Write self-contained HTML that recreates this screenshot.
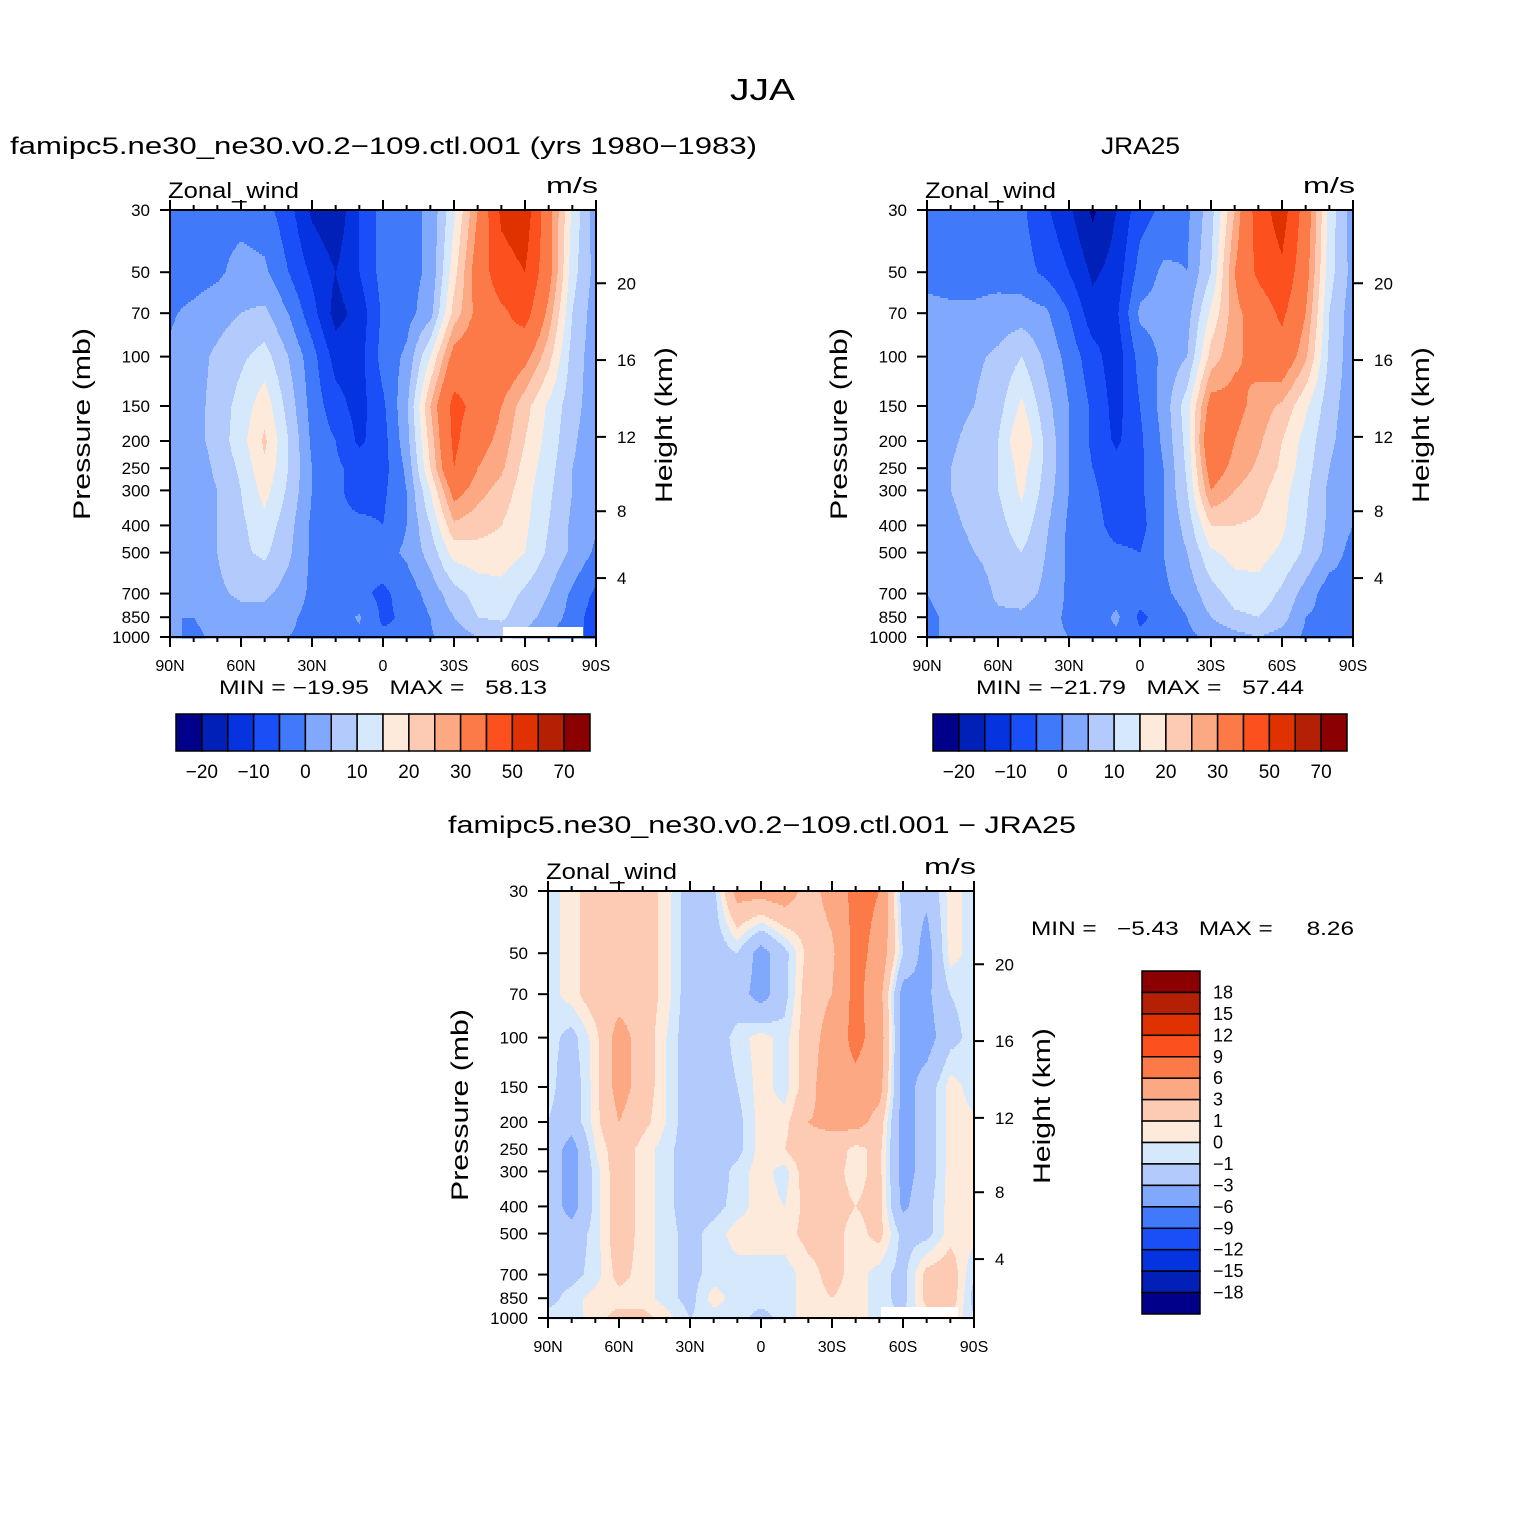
<!DOCTYPE html>
<html><head><meta charset="utf-8"><style>
html,body{margin:0;padding:0;background:#fff}
svg text{font-family:"Liberation Sans",sans-serif;fill:#000}
</style></head><body>
<svg id="fig" width="1524" height="1524" viewBox="0 0 1524 1524" xmlns="http://www.w3.org/2000/svg">
<rect width="1524" height="1524" fill="#fff"/>
<text x="730" y="100" font-size="31" textLength="65" lengthAdjust="spacingAndGlyphs">JJA</text>
<text x="10" y="154" font-size="24" textLength="747" lengthAdjust="spacingAndGlyphs">famipc5.ne30_ne30.v0.2−109.ctl.001 (yrs 1980−1983)</text>
<text x="1101" y="154" font-size="24" textLength="79" lengthAdjust="spacingAndGlyphs">JRA25</text>
<text x="448" y="833" font-size="24" textLength="628" lengthAdjust="spacingAndGlyphs">famipc5.ne30_ne30.v0.2−109.ctl.001 − JRA25</text>
<text x="219" y="694" font-size="19" xml:space="preserve" textLength="328" lengthAdjust="spacingAndGlyphs">MIN = −19.95   MAX =   58.13</text>
<text x="976" y="694" font-size="19" xml:space="preserve" textLength="328" lengthAdjust="spacingAndGlyphs">MIN = −21.79   MAX =   57.44</text>
<text x="1031" y="935" font-size="19" xml:space="preserve" textLength="323" lengthAdjust="spacingAndGlyphs">MIN =   −5.43   MAX =     8.26</text>
</svg>
<script>
// ---- data ----
const lats = [90,80,70,60,50,40,30,20,10,0,-10,-20,-30,-40,-50,-60,-70,-80,-90];
const levs = [30,50,70,100,150,200,250,300,400,500,700,850,1000];
const modelU = [
[-2,-2,-2,-2,-3,-8,-16,-19,-10,-3,-2,1,14,30,52,56,33,14,2],
[-2,-2,-1,2,1,-5,-11,-15,-10,-3,-2,1,18,34,46,50,33,12,3],
[-0.5,1,3,5,6,0,-8,-17,-13,-4,-2,3,22,32,38,44,28,10,2],
[0.5,3,6,9,12,5,-3,-12,-12,-3,1,15,33,36,37,32,22,8,2],
[0.5,3,7,12,18,8,-2,-8,-12,-6,4,25,43,37,30,22,14,7,2],
[0.5,3,7,13,21,10,-1,-5,-11,-7,3,22,42,33,28,20,13,6,1],
[0,2,6,11,19,10,0,-4,-7,-7,1,20,40,30,26,18,12,5,1],
[0,2,5,10,17,9,0,-4,-7,-6,0,15,33,27,23,17,11,5,1],
[0,1.5,5,9,13,7,-1,-4,-4,-5,0,10,24,22,20,16,10,4,0.5],
[0.5,2,5,9,11,6,-1,-3,-3,-2,1,7,17,18,18,15,9,4,-1],
[0.5,1.5,4,6,6,3,-1,-1,-4,-6,-3,2,8,12,13,9,5,-1,-6],
[0,0,2,3,3,1,-1.5,-2,0.5,-6,-4,0,5,10,11,7,3,-2,-8],
[1,-1,1,1,1,0,-1,-3,-1,-4,-4,-0.5,2,5,6,4,0,-4,-6]];
const jraU = [
[-2,-2,-2,-3,-4,-9,-14,-21,-15,-7,-4,-1,8,25,45,55,35,13,2],
[-1,-2,-2,-2,-3,-6,-10,-16,-13,-3,1,0,10,30,42,48,33,12,3],
[1,1,1,2,2.5,1,-5,-13,-11,1,2,3,16,28,34,42,30,10,2],
[1,2,4,6,10,4,-2,-8,-13,-3,1,5,22,29,32,36,26,9,2],
[1,3,5,8,16,7,0,-6,-12,-5,2,13,33,32,28,24,16,7,2],
[1,4,7,10,20,9,0,-6,-11,-6,1,12,38,30,26,20,13,6,2],
[1,5,8,10,17,9,0,-5,-8,-6,0,11,34,28,24,19,12,5,1],
[1,5,7,10,16,8,0,-4,-8,-6,0,10,30,25,22,17,11,4,1],
[1,4,6,8,13,6,-1,-3,-7,-7,0,7,20,20,19,16,10,4,0],
[0.5,3,5,7,10,5,-1,-3,-4,-5,0,5,14,17,17,14,9,3,-2],
[0,1,2,6,7,4,-1,-2,-2,-3,-1,2,8,12,13,9,3,-3,-2],
[-0.5,0.5,2,4,4,2,-1,-3,1,-6,-3,0,5,9,10,7,0,-2,-2],
[-1,1,1,2,2,1,0,-2,-1,-4,-3,-1,1,3,5,3,-1,-3,-3]];
const diffU = [
[-0.5,0.5,2,2,2,0.5,-2,-1.5,4,4,4.5,2,4,7,6,-2,-2.5,0.5,-0.5],
[-0.5,0.5,2,2,2,0.5,-2,-2,-1,-4,-1.5,1.5,2.5,7,5,-1,-4,0.5,-0.5],
[-0.5,0.5,2,2,2,0.5,-2,-2,-2,-4,-1.5,2,3,7,4,-4,-3.5,-1,-0.5],
[-0.5,-1.5,0.5,4,2,0,-2,-2,-0.5,0.5,-0.5,2,4,7,4.5,-4,-4,-1.5,-0.5],
[-0.5,-2,0.5,4,2,0,-2,-2,-1,0.5,-0.5,2,5,5,4,-4,-2,0.5,-0.5],
[-1,-2,0.5,3,1.5,0,-2,-2,-1.5,0.5,0.5,3,3.5,4,2,-4,-2,0.5,0.2],
[-1.5,-4,0,2,0.5,-0.5,-2,-2,-1.5,0.5,1,2.5,2,0.5,1.5,-4,-2,0.5,0.2],
[-1.5,-4,-0.5,2,0.5,-0.5,-2,-2,-0.5,0.5,-0.5,2,1.5,0.5,1.5,-4,-2,0.5,0.5],
[-1.5,-4,-0.5,2,0.5,-0.5,-2,-1.5,-0.5,0.5,0,1.5,1.5,1,1.5,-3.5,-1.5,0.5,0.5],
[-1.5,-2,-0.5,2,0.5,-0.5,-1.5,-0.5,0.5,0.5,0.5,1.5,1.5,0.5,1.5,-1.5,-1.5,0.5,0.5],
[-1.5,-1.5,-0.5,1.5,0.5,-0.5,-1.5,-0.5,-0.5,-0.5,-0.5,0.5,1.5,0.5,-0.5,-1.5,1.5,2,-1],
[-1.5,-0.5,0.5,0.5,0.5,-0.5,-1.5,0.5,-0.5,-0.5,-0.5,0.5,1,0.5,-0.5,-1.5,1.5,2,-1.5],
[-0.5,-0.5,0.5,1.5,1.5,0.5,-1,-0.5,-0.5,-1.5,-0.5,0.5,0.5,0.5,-0.5,-1,0.5,1,-1]];
const fullLevels = [-20,-15,-10,-5,0,5,10,15,20,25,30,40,50,60,70];
const fullTickLabels = ["−20","−10","0","10","20","30","50","70"];
const diffLevels = [-18,-15,-12,-9,-6,-3,-1,0,1,3,6,9,12,15,18];
const diffTickLabels = ["18","15","12","9","6","3","1","0","−1","−3","−6","−9","−12","−15","−18"];
const pressureTicks = [30,50,70,100,150,200,250,300,400,500,700,850,1000];
const heightTicks = [4,8,12,16,20];
const latTicks = [90,60,30,0,-30,-60,-90];
const latTickLabels = ["90N","60N","30N","0","30S","60S","90S"];
const palette = ["#00008a","#0020b8","#0533e0","#1a4ff8","#4079fa","#80a8fc","#b3cbfc","#d6e8fc","#feeadb","#fdcbb3","#fca882","#fc7a48","#fc501e","#e03200","#b42003","#8b0000"];

const NS="http://www.w3.org/2000/svg";
const svg=document.getElementById('fig');
function mk(tag,attrs,parent){const e=document.createElementNS(NS,tag);for(const k in attrs)e.setAttribute(k,attrs[k]);(parent||svg).appendChild(e);return e;}
const W=426,H=427;
const L30=Math.log(30),L1000=Math.log(1000);
function yScale(top,p){return top+H*(Math.log(p)-L30)/(L1000-L30);}
function xScale(left,lat){return left+W*(90-lat)/180;}
function kmToP(z){z*=1000;if(z<=11000)return 1013.25*Math.pow(1-2.2558e-5*z,5.2559);return 226.32*Math.exp(-(z-11000)/6341.6);}
function colorIdx(v,levels){let c=0;for(const b of levels){if(v>=b)c++;}return c;}

function drawField(name,left,top,data,levels,mask){
  const g=mk('g',{});
  
  
  const logLevs=levs.map(Math.log);
  for(let yy=0;yy<H;yy+=2){
    const lp=L30+((yy+1)/H)*(L1000-L30);
    let k=0;while(k<levs.length-2&&lp>logLevs[k+1])k++;
    const t=Math.min(1,Math.max(0,(lp-logLevs[k])/(logLevs[k+1]-logLevs[k])));
    let runStart=0,runC=-1;
    for(let xx=0;xx<=W;xx++){
      let c=-2;
      if(xx<W){
        const fi=(xx+0.5)/W*(lats.length-1);
        const i=Math.min(lats.length-2,Math.floor(fi));const u=fi-i;
        const a=data[k][i]*(1-u)+data[k][i+1]*u;
        const b=data[k+1][i]*(1-u)+data[k+1][i+1]*u;
        c=colorIdx(a*(1-t)+b*t,levels);
      }
      if(c!==runC){
        if(runC>=0){
          const r=mk('rect',{x:left+runStart,y:top+yy,width:xx-runStart+0.6,height:2.6,fill:palette[runC]},g);
          
          
        }
        runStart=xx;runC=c;
      }
    }
  }
  if(mask){
    const m=mk('rect',{x:mask[0],y:mask[1],width:mask[2],height:mask[3],fill:'#fff'});
    
    
  }
}

function drawAxes(prefix,left,top){
  const g=mk('g',{stroke:'#000','stroke-width':2,fill:'none'});
  
  
  const fr=mk('rect',{x:left,y:top,width:W,height:H},g);
  
  
  for(let lat=90;lat>=-90;lat-=10){
    const x=xScale(left,lat);const major=(lat%30===0);const len=major?10:5;
    mk('line',{x1:x,y1:top+H,x2:x,y2:top+H+len},g);
    mk('line',{x1:x,y1:top,x2:x,y2:top-len},g);
  }
  latTicks.forEach((lat,i)=>{
    const t=mk('text',{x:xScale(left,lat),y:top+H+34,'font-size':16,'text-anchor':'middle'});
    t.textContent=latTickLabels[i];
    
    
  });
  pressureTicks.forEach(p=>{
    const y=yScale(top,p);
    mk('line',{x1:left,y1:y,x2:left-10,y2:y},g);
    const t=mk('text',{x:left-20,y:y+6,'font-size':17,'text-anchor':'end'});
    t.textContent=String(p);
    
    
  });
  heightTicks.forEach(z=>{
    const y=yScale(top,kmToP(z));
    mk('line',{x1:left+W,y1:y,x2:left+W+10,y2:y},g);
    const t=mk('text',{x:left+W+21,y:y+6,'font-size':17});
    t.textContent=String(z);
    
    
  });
  const yl=mk('text',{x:0,y:0,'font-size':24,'text-anchor':'middle',textLength:192,lengthAdjust:'spacingAndGlyphs',transform:`translate(${left-80},${top+214}) rotate(-90)`});
  yl.textContent='Pressure (mb)';
  
  
  const hl=mk('text',{x:0,y:0,'font-size':24,'text-anchor':'middle',textLength:156,lengthAdjust:'spacingAndGlyphs',transform:`translate(${left+W+76},${top+215}) rotate(-90)`});
  hl.textContent='Height (km)';
  
  
  const zl=mk('text',{x:left-2,y:top-12,'font-size':22,textLength:131,lengthAdjust:'spacingAndGlyphs'});
  zl.textContent='Zonal_wind';
  
  
  const ul=mk('text',{x:left+W-50,y:top-17,'font-size':22,textLength:52,lengthAdjust:'spacingAndGlyphs'});
  ul.textContent='m/s';
  
  
}

function hColorbar(name,x0,y0,w,h){
  const g=mk('g',{});
  
  
  const bw=w/palette.length;
  palette.forEach((c,i)=>{
    const r=mk('rect',{x:x0+i*bw,y:y0,width:bw,height:h,fill:c,stroke:'#000','stroke-width':1.5},g);
    
    
  });
  fullTickLabels.forEach((lab,i)=>{
    const t=mk('text',{x:x0+(1+2*i)*bw,y:y0+h+27,'font-size':19,'text-anchor':'middle'},g);
    t.textContent=lab;
    
    
  });
}
function vColorbar(name,x0,y0,w,h){
  const g=mk('g',{});
  
  
  const bh=h/palette.length;
  palette.slice().reverse().forEach((c,i)=>{
    const r=mk('rect',{x:x0,y:y0+i*bh,width:w,height:bh,fill:c,stroke:'#000','stroke-width':1.5},g);
    
    
  });
  diffTickLabels.forEach((lab,i)=>{
    const t=mk('text',{x:x0+w+13,y:y0+(i+1)*bh+6,'font-size':18},g);
    t.textContent=lab;
    
    
  });
}

drawField('model-contours',170,210,modelU,fullLevels,[503,627,80,10]);
drawField('jra-contours',927,210,jraU,fullLevels,null);
drawField('diff-contours',548,891,diffU,diffLevels,[881,1307,77,11]);
drawAxes('model',170,210);
drawAxes('jra',927,210);
drawAxes('diff',548,891);
hColorbar('model-colorbar',176,714,414,37);
hColorbar('jra-colorbar',933,714,414,37);
vColorbar('diff-colorbar',1142,971,58,343);
</script>
</body></html>
